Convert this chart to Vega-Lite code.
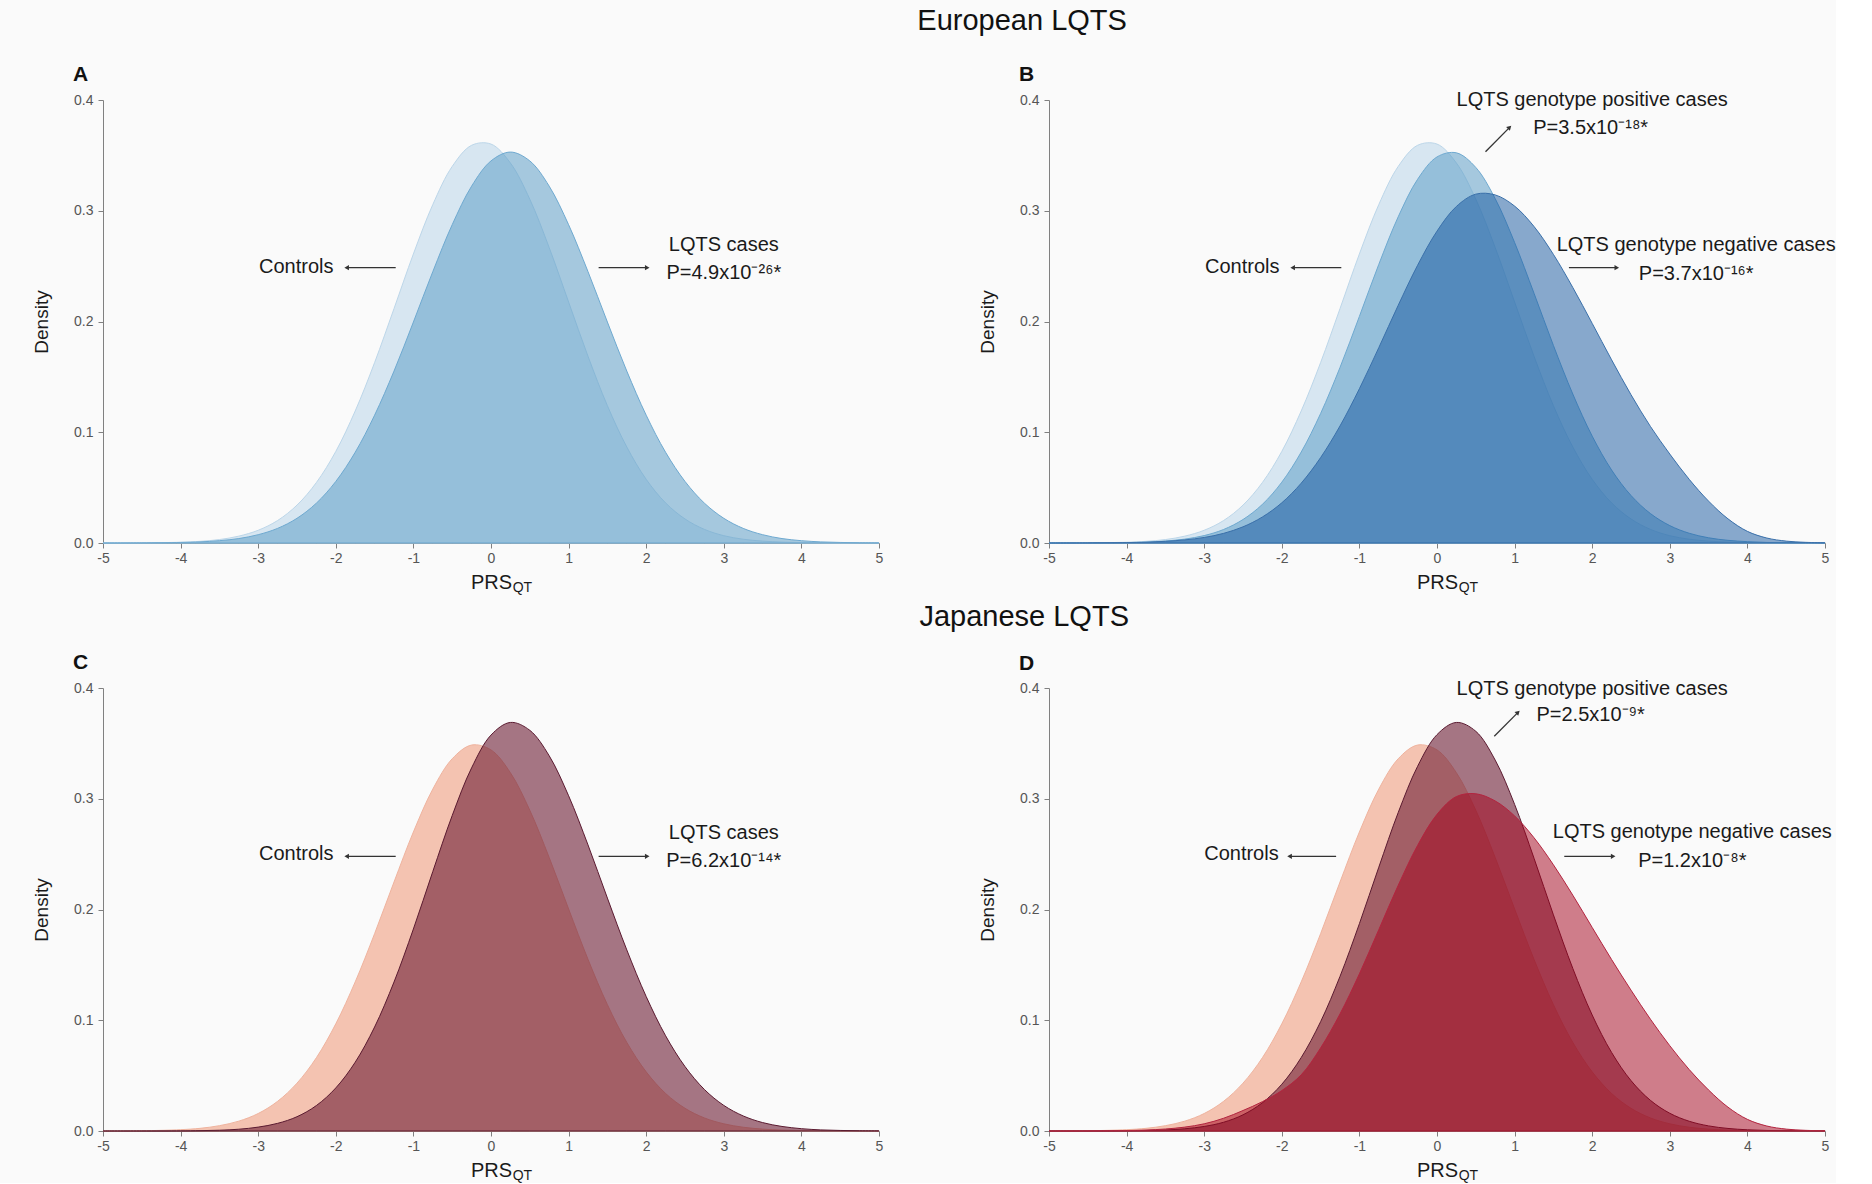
{
  "$schema": "https://vega.github.io/schema/vega-lite/v6.json",
  "background": "#fafafa",
  "padding": {"left": 32, "top": 7, "right": 0, "bottom": 0},
  "config": {
    "font": "Liberation Sans",
    "view": {"stroke": null},
    "axis": {"domainColor": "#808080", "tickColor": "#808080", "labelColor": "#555555", "labelFont": "Liberation Sans", "labelFontSize": 14, "titleFont": "Liberation Sans", "titleFontWeight": "normal", "titleColor": "#1a1a1a", "grid": false, "labelFlush": false, "labelOverlap": false, "tickSize": 5},
    "title": {"font": "Liberation Sans", "color": "#111111"}
  },
  "datasets": {
    "curves": [
      {"x":-5,"ctrlE":0,"caseA":0,"posB":0,"negB":0,"ctrlJ":0,"caseC":0,"posD":0,"negD":0},
      {"x":-4.5,"ctrlE":0.0001,"caseA":0.0001,"posB":0.0001,"negB":0.0001,"ctrlJ":0.0002,"caseC":0,"posD":0,"negD":0.0001},
      {"x":-4,"ctrlE":0.0007,"caseA":0.0005,"posB":0.0004,"negB":0.0004,"ctrlJ":0.0012,"caseC":0.0001,"posD":0.0002,"negD":0.0004},
      {"x":-3.75,"ctrlE":0.0015,"caseA":0.001,"posB":0.0008,"negB":0.0007,"ctrlJ":0.0024,"caseC":0.0003,"posD":0.0004,"negD":0.0009},
      {"x":-3.5,"ctrlE":0.0031,"caseA":0.0021,"posB":0.0018,"negB":0.0015,"ctrlJ":0.0048,"caseC":0.0007,"posD":0.0009,"negD":0.0018},
      {"x":-3.25,"ctrlE":0.0062,"caseA":0.004,"posB":0.0035,"negB":0.0028,"ctrlJ":0.0089,"caseC":0.0016,"posD":0.002,"negD":0.0035},
      {"x":-3,"ctrlE":0.0115,"caseA":0.0075,"posB":0.0067,"negB":0.005,"ctrlJ":0.0158,"caseC":0.0035,"posD":0.0041,"negD":0.0065},
      {"x":-2.75,"ctrlE":0.0203,"caseA":0.0132,"posB":0.0122,"negB":0.0087,"ctrlJ":0.0268,"caseC":0.0069,"posD":0.0079,"negD":0.0115},
      {"x":-2.5,"ctrlE":0.0342,"caseA":0.0223,"posB":0.0212,"negB":0.0146,"ctrlJ":0.0432,"caseC":0.0129,"posD":0.0146,"negD":0.0185},
      {"x":-2.25,"ctrlE":0.0546,"caseA":0.036,"posB":0.0349,"negB":0.0235,"ctrlJ":0.0662,"caseC":0.023,"posD":0.0255,"negD":0.0265},
      {"x":-2,"ctrlE":0.0827,"caseA":0.0556,"posB":0.0549,"negB":0.0363,"ctrlJ":0.0968,"caseC":0.0389,"posD":0.0422,"negD":0.0365},
      {"x":-1.75,"ctrlE":0.1192,"caseA":0.0819,"posB":0.0821,"negB":0.054,"ctrlJ":0.1346,"caseC":0.0621,"posD":0.0663,"negD":0.0507},
      {"x":-1.5,"ctrlE":0.1629,"caseA":0.1154,"posB":0.1169,"negB":0.0771,"ctrlJ":0.1782,"caseC":0.0939,"posD":0.0987,"negD":0.075},
      {"x":-1.25,"ctrlE":0.2116,"caseA":0.1552,"posB":0.1585,"negB":0.1057,"ctrlJ":0.2248,"caseC":0.1345,"posD":0.1396,"negD":0.1057},
      {"x":-1,"ctrlE":0.261,"caseA":0.1995,"posB":0.2046,"negB":0.1393,"ctrlJ":0.27,"caseC":0.1824,"posD":0.1872,"negD":0.1419},
      {"x":-0.75,"ctrlE":0.3056,"caseA":0.245,"posB":0.2516,"negB":0.1764,"ctrlJ":0.3087,"caseC":0.2343,"posD":0.2382,"negD":0.1818},
      {"x":-0.5,"ctrlE":0.34,"caseA":0.2874,"posB":0.2945,"negB":0.2146,"ctrlJ":0.3361,"caseC":0.2848,"posD":0.2875,"negD":0.2218},
      {"x":-0.25,"ctrlE":0.3591,"caseA":0.3222,"posB":0.3284,"negB":0.2508,"ctrlJ":0.3485,"caseC":0.3279,"posD":0.3293,"negD":0.2579},
      {"x":0,"ctrlE":0.3602,"caseA":0.345,"posB":0.3486,"negB":0.2816,"ctrlJ":0.3441,"caseC":0.3575,"posD":0.3579,"negD":0.2859},
      {"x":0.25,"ctrlE":0.3431,"caseA":0.353,"posB":0.3523,"negB":0.3039,"ctrlJ":0.3235,"caseC":0.3689,"posD":0.3689,"negD":0.302},
      {"x":0.5,"ctrlE":0.3104,"caseA":0.345,"posB":0.3391,"negB":0.315,"ctrlJ":0.2896,"caseC":0.3618,"posD":0.3609,"negD":0.3045},
      {"x":0.75,"ctrlE":0.2667,"caseA":0.3222,"posB":0.3109,"negB":0.3143,"ctrlJ":0.2469,"caseC":0.3388,"posD":0.3349,"negD":0.298},
      {"x":1,"ctrlE":0.2176,"caseA":0.2874,"posB":0.2713,"negB":0.3042,"ctrlJ":0.2005,"caseC":0.3027,"posD":0.2949,"negD":0.2845},
      {"x":1.25,"ctrlE":0.1686,"caseA":0.245,"posB":0.2255,"negB":0.2858,"ctrlJ":0.155,"caseC":0.2583,"posD":0.2463,"negD":0.2648},
      {"x":1.5,"ctrlE":0.124,"caseA":0.1995,"posB":0.1784,"negB":0.2606,"ctrlJ":0.1141,"caseC":0.2103,"posD":0.1952,"negD":0.2404},
      {"x":1.75,"ctrlE":0.0867,"caseA":0.1552,"posB":0.1345,"negB":0.2307,"ctrlJ":0.08,"caseC":0.1635,"posD":0.1468,"negD":0.2129},
      {"x":2,"ctrlE":0.0575,"caseA":0.1154,"posB":0.0965,"negB":0.1983,"ctrlJ":0.0534,"caseC":0.1214,"posD":0.1047,"negD":0.1838},
      {"x":2.25,"ctrlE":0.0362,"caseA":0.0819,"posB":0.0659,"negB":0.1654,"ctrlJ":0.0339,"caseC":0.086,"posD":0.0709,"negD":0.1548},
      {"x":2.5,"ctrlE":0.0217,"caseA":0.0556,"posB":0.0429,"negB":0.1339,"ctrlJ":0.0205,"caseC":0.0582,"posD":0.0455,"negD":0.1272},
      {"x":2.75,"ctrlE":0.0123,"caseA":0.036,"posB":0.0266,"negB":0.1053,"ctrlJ":0.0118,"caseC":0.0375,"posD":0.0277,"negD":0.101},
      {"x":3,"ctrlE":0.0066,"caseA":0.0223,"posB":0.0157,"negB":0.0803,"ctrlJ":0.0065,"caseC":0.0231,"posD":0.016,"negD":0.077},
      {"x":3.25,"ctrlE":0.0034,"caseA":0.0132,"posB":0.0088,"negB":0.0575,"ctrlJ":0.0034,"caseC":0.0136,"posD":0.0088,"negD":0.0555},
      {"x":3.5,"ctrlE":0.0017,"caseA":0.0075,"posB":0.0047,"negB":0.0378,"ctrlJ":0.0017,"caseC":0.0076,"posD":0.0046,"negD":0.037},
      {"x":3.75,"ctrlE":0.0008,"caseA":0.004,"posB":0.0024,"negB":0.0218,"ctrlJ":0.0008,"caseC":0.0041,"posD":0.0023,"negD":0.0215},
      {"x":4,"ctrlE":0.0003,"caseA":0.0021,"posB":0.0012,"negB":0.0105,"ctrlJ":0.0004,"caseC":0.0021,"posD":0.0011,"negD":0.0105},
      {"x":4.25,"ctrlE":0.0001,"caseA":0.001,"posB":0.0005,"negB":0.0045,"ctrlJ":0.0002,"caseC":0.001,"posD":0.0005,"negD":0.0045},
      {"x":4.5,"ctrlE":0,"caseA":0.0005,"posB":0.0002,"negB":0.0017,"ctrlJ":0.0001,"caseC":0.0005,"posD":0.0002,"negD":0.0017},
      {"x":4.75,"ctrlE":0,"caseA":0.0002,"posB":0.0001,"negB":0.0006,"ctrlJ":0,"caseC":0.0002,"posD":0.0001,"negD":0.0006},
      {"x":5,"ctrlE":0,"caseA":0.0001,"posB":0,"negB":0.0002,"ctrlJ":0,"caseC":0.0001,"posD":0,"negD":0.0002}
    ],
    "labels": [
      {"panel":"A","x":-2.51,"y":0.2495,"label":"Controls"},
      {"panel":"A","x":3.0,"y":0.269,"label":"LQTS cases"},
      {"panel":"A","x":3.0,"y":0.244,"label":"P=4.9x10⁻²⁶*"},
      {"panel":"B","x":-2.51,"y":0.2495,"label":"Controls"},
      {"panel":"B","x":2.0,"y":0.3997,"label":"LQTS genotype positive cases"},
      {"panel":"B","x":1.98,"y":0.3744,"label":"P=3.5x10⁻¹⁸*"},
      {"panel":"B","x":3.34,"y":0.269,"label":"LQTS genotype negative cases"},
      {"panel":"B","x":3.34,"y":0.243,"label":"P=3.7x10⁻¹⁶*"},
      {"panel":"C","x":-2.51,"y":0.2497,"label":"Controls"},
      {"panel":"C","x":3.0,"y":0.269,"label":"LQTS cases"},
      {"panel":"C","x":3.0,"y":0.2437,"label":"P=6.2x10⁻¹⁴*"},
      {"panel":"D","x":-2.52,"y":0.2497,"label":"Controls"},
      {"panel":"D","x":2.0,"y":0.3994,"label":"LQTS genotype positive cases"},
      {"panel":"D","x":1.98,"y":0.3752,"label":"P=2.5x10⁻⁹*"},
      {"panel":"D","x":3.29,"y":0.27,"label":"LQTS genotype negative cases"},
      {"panel":"D","x":3.29,"y":0.2437,"label":"P=1.2x10⁻⁸*"}
    ],
    "subs": [
      {"panel":"A","x":0.28,"y":-0.0405,"label":"QT"},
      {"panel":"B","x":0.28,"y":-0.0405,"label":"QT"},
      {"panel":"C","x":0.28,"y":-0.0405,"label":"QT"},
      {"panel":"D","x":0.28,"y":-0.0405,"label":"QT"}
    ],
    "arrows": [
      {"panel":"A","x":-1.228,"y":0.2486,"x2":-1.86,"y2":0.2486,"dir":270},
      {"panel":"A","x":1.387,"y":0.2486,"x2":2.013,"y2":0.2486,"dir":90},
      {"panel":"B","x":-1.233,"y":0.2486,"x2":-1.86,"y2":0.2486,"dir":270},
      {"panel":"B","x":1.7,"y":0.2486,"x2":2.317,"y2":0.2486,"dir":90},
      {"panel":"B","x":0.625,"y":0.3533,"x2":0.936,"y2":0.3753,"dir":45},
      {"panel":"C","x":-1.228,"y":0.248,"x2":-1.86,"y2":0.248,"dir":270},
      {"panel":"C","x":1.387,"y":0.248,"x2":2.013,"y2":0.248,"dir":90},
      {"panel":"D","x":-1.3,"y":0.248,"x2":-1.9,"y2":0.248,"dir":270},
      {"panel":"D","x":1.64,"y":0.248,"x2":2.27,"y2":0.248,"dir":90},
      {"panel":"D","x":0.738,"y":0.3565,"x2":1.044,"y2":0.378,"dir":45}
    ]
  },
  "spacing": 8,
  "vconcat": [
    {
      "title": {"text": "European LQTS", "anchor": "middle", "fontSize": 29, "fontWeight": "normal", "dx": 88, "offset": 28},
      "spacing": 95,
      "hconcat": [
        {
          "width": 776, "height": 443,
          "title": {"text": "A", "anchor": "start", "frame": "group", "fontSize": 21, "fontWeight": "bold", "dx": -30, "offset": 8},
          "layer": [
            {"data": {"name": "curves"}, "mark": {"type": "area", "interpolate": "catmull-rom", "fill": "#d7e6f1", "fillOpacity": 1, "stroke": "#bcd6e9", "strokeWidth": 1},
             "encoding": {
               "x": {"field": "x", "type": "quantitative", "title": "PRS", "scale": {"domain": [-5, 5], "nice": false, "zero": false}, "axis": {"values": [-5,-4,-3,-2,-1,0,1,2,3,4,5], "labelExpr": "'' + datum.value", "titleFontSize": 20, "titlePadding": 7, "labelPadding": 3}},
               "y": {"field": "ctrlE", "type": "quantitative", "title": "Density", "scale": {"domain": [0, 0.4], "nice": false}, "axis": {"values": [0, 0.1, 0.2, 0.3, 0.4], "format": ".1f", "titleFontSize": 19, "titlePadding": 22, "labelPadding": 5}}}},
            {"data": {"name": "curves"}, "mark": {"type": "area", "interpolate": "catmull-rom", "fill": "#5e9fc7", "fillOpacity": 0.55, "stroke": "#6ea9d0", "strokeWidth": 1},
             "encoding": {
               "x": {"field": "x", "type": "quantitative", "title": "PRS"},
               "y": {"field": "caseA", "type": "quantitative", "title": "Density"}}},
            {"data": {"name": "arrows"}, "transform": [{"filter": "datum.panel == 'A'"}], "mark": {"type": "rule", "color": "#333333", "strokeWidth": 1.3},
             "encoding": {"x": {"field": "x", "type": "quantitative", "title": "PRS"}, "y": {"field": "y", "type": "quantitative", "title": "Density"}, "x2": {"field": "x2"}, "y2": {"field": "y2"}}},
            {"data": {"name": "arrows"}, "transform": [{"filter": "datum.panel == 'A'"}], "mark": {"type": "point", "shape": "triangle-up", "filled": true, "color": "#333333", "size": 28, "opacity": 1},
             "encoding": {"x": {"field": "x2", "type": "quantitative", "title": "PRS"}, "y": {"field": "y2", "type": "quantitative", "title": "Density"}, "angle": {"field": "dir", "type": "quantitative", "scale": null}}},
            {"data": {"name": "labels"}, "transform": [{"filter": "datum.panel == 'A'"}], "mark": {"type": "text", "fontSize": 20, "color": "#1a1a1a", "align": "center", "baseline": "middle"},
             "encoding": {"x": {"field": "x", "type": "quantitative", "title": "PRS"}, "y": {"field": "y", "type": "quantitative", "title": "Density"}, "text": {"field": "label"}}},
            {"data": {"name": "subs"}, "transform": [{"filter": "datum.panel == 'A'"}], "mark": {"type": "text", "fontSize": 14, "color": "#1a1a1a", "align": "left", "baseline": "middle"},
             "encoding": {"x": {"field": "x", "type": "quantitative", "title": "PRS"}, "y": {"field": "y", "type": "quantitative", "title": "Density"}, "text": {"field": "label"}}}
          ]
        },
        {
          "width": 776, "height": 443,
          "title": {"text": "B", "anchor": "start", "frame": "group", "fontSize": 21, "fontWeight": "bold", "dx": -30, "offset": 5},
          "layer": [
            {"data": {"name": "curves"}, "mark": {"type": "area", "interpolate": "catmull-rom", "fill": "#d7e6f1", "fillOpacity": 1, "stroke": "#bcd6e9", "strokeWidth": 1},
             "encoding": {
               "x": {"field": "x", "type": "quantitative", "title": "PRS", "scale": {"domain": [-5, 5], "nice": false, "zero": false}, "axis": {"values": [-5,-4,-3,-2,-1,0,1,2,3,4,5], "labelExpr": "'' + datum.value", "titleFontSize": 20, "titlePadding": 7, "labelPadding": 3}},
               "y": {"field": "ctrlE", "type": "quantitative", "title": "Density", "scale": {"domain": [0, 0.4], "nice": false}, "axis": {"values": [0, 0.1, 0.2, 0.3, 0.4], "format": ".1f", "titleFontSize": 19, "titlePadding": 22, "labelPadding": 5}}}},
            {"data": {"name": "curves"}, "mark": {"type": "area", "interpolate": "catmull-rom", "fill": "#5e9fc7", "fillOpacity": 0.55, "stroke": "#6ea9d0", "strokeWidth": 1},
             "encoding": {
               "x": {"field": "x", "type": "quantitative", "title": "PRS"},
               "y": {"field": "posB", "type": "quantitative", "title": "Density"}}},
            {"data": {"name": "curves"}, "mark": {"type": "area", "interpolate": "catmull-rom", "fill": "#14569e", "fillOpacity": 0.5, "stroke": "#3a70aa", "strokeWidth": 1},
             "encoding": {
               "x": {"field": "x", "type": "quantitative", "title": "PRS"},
               "y": {"field": "negB", "type": "quantitative", "title": "Density"}}},
            {"data": {"name": "arrows"}, "transform": [{"filter": "datum.panel == 'B'"}], "mark": {"type": "rule", "color": "#333333", "strokeWidth": 1.3},
             "encoding": {"x": {"field": "x", "type": "quantitative", "title": "PRS"}, "y": {"field": "y", "type": "quantitative", "title": "Density"}, "x2": {"field": "x2"}, "y2": {"field": "y2"}}},
            {"data": {"name": "arrows"}, "transform": [{"filter": "datum.panel == 'B'"}], "mark": {"type": "point", "shape": "triangle-up", "filled": true, "color": "#333333", "size": 28, "opacity": 1},
             "encoding": {"x": {"field": "x2", "type": "quantitative", "title": "PRS"}, "y": {"field": "y2", "type": "quantitative", "title": "Density"}, "angle": {"field": "dir", "type": "quantitative", "scale": null}}},
            {"data": {"name": "labels"}, "transform": [{"filter": "datum.panel == 'B'"}], "mark": {"type": "text", "fontSize": 20, "color": "#1a1a1a", "align": "center", "baseline": "middle"},
             "encoding": {"x": {"field": "x", "type": "quantitative", "title": "PRS"}, "y": {"field": "y", "type": "quantitative", "title": "Density"}, "text": {"field": "label"}}},
            {"data": {"name": "subs"}, "transform": [{"filter": "datum.panel == 'B'"}], "mark": {"type": "text", "fontSize": 14, "color": "#1a1a1a", "align": "left", "baseline": "middle"},
             "encoding": {"x": {"field": "x", "type": "quantitative", "title": "PRS"}, "y": {"field": "y", "type": "quantitative", "title": "Density"}, "text": {"field": "label"}}}
          ]
        }
      ]
    },
    {
      "title": {"text": "Japanese LQTS", "anchor": "middle", "fontSize": 29, "fontWeight": "normal", "dx": 92, "offset": 20},
      "spacing": 95,
      "hconcat": [
        {
          "width": 776, "height": 443,
          "title": {"text": "C", "anchor": "start", "frame": "group", "fontSize": 21, "fontWeight": "bold", "dx": -30, "offset": 8},
          "layer": [
            {"data": {"name": "curves"}, "mark": {"type": "area", "interpolate": "catmull-rom", "fill": "#f4c3b1", "fillOpacity": 1, "stroke": "#efb39e", "strokeWidth": 1},
             "encoding": {
               "x": {"field": "x", "type": "quantitative", "title": "PRS", "scale": {"domain": [-5, 5], "nice": false, "zero": false}, "axis": {"values": [-5,-4,-3,-2,-1,0,1,2,3,4,5], "labelExpr": "'' + datum.value", "titleFontSize": 20, "titlePadding": 7, "labelPadding": 3}},
               "y": {"field": "ctrlJ", "type": "quantitative", "title": "Density", "scale": {"domain": [0, 0.4], "nice": false}, "axis": {"values": [0, 0.1, 0.2, 0.3, 0.4], "format": ".1f", "titleFontSize": 19, "titlePadding": 22, "labelPadding": 5}}}},
            {"data": {"name": "curves"}, "mark": {"type": "area", "interpolate": "catmull-rom", "fill": "#6c1c34", "fillOpacity": 0.6, "stroke": "#5a1a30", "strokeWidth": 1},
             "encoding": {
               "x": {"field": "x", "type": "quantitative", "title": "PRS"},
               "y": {"field": "caseC", "type": "quantitative", "title": "Density"}}},
            {"data": {"name": "arrows"}, "transform": [{"filter": "datum.panel == 'C'"}], "mark": {"type": "rule", "color": "#333333", "strokeWidth": 1.3},
             "encoding": {"x": {"field": "x", "type": "quantitative", "title": "PRS"}, "y": {"field": "y", "type": "quantitative", "title": "Density"}, "x2": {"field": "x2"}, "y2": {"field": "y2"}}},
            {"data": {"name": "arrows"}, "transform": [{"filter": "datum.panel == 'C'"}], "mark": {"type": "point", "shape": "triangle-up", "filled": true, "color": "#333333", "size": 28, "opacity": 1},
             "encoding": {"x": {"field": "x2", "type": "quantitative", "title": "PRS"}, "y": {"field": "y2", "type": "quantitative", "title": "Density"}, "angle": {"field": "dir", "type": "quantitative", "scale": null}}},
            {"data": {"name": "labels"}, "transform": [{"filter": "datum.panel == 'C'"}], "mark": {"type": "text", "fontSize": 20, "color": "#1a1a1a", "align": "center", "baseline": "middle"},
             "encoding": {"x": {"field": "x", "type": "quantitative", "title": "PRS"}, "y": {"field": "y", "type": "quantitative", "title": "Density"}, "text": {"field": "label"}}},
            {"data": {"name": "subs"}, "transform": [{"filter": "datum.panel == 'C'"}], "mark": {"type": "text", "fontSize": 14, "color": "#1a1a1a", "align": "left", "baseline": "middle"},
             "encoding": {"x": {"field": "x", "type": "quantitative", "title": "PRS"}, "y": {"field": "y", "type": "quantitative", "title": "Density"}, "text": {"field": "label"}}}
          ]
        },
        {
          "width": 776, "height": 443,
          "title": {"text": "D", "anchor": "start", "frame": "group", "fontSize": 21, "fontWeight": "bold", "dx": -30, "offset": 5},
          "layer": [
            {"data": {"name": "curves"}, "mark": {"type": "area", "interpolate": "catmull-rom", "fill": "#f4c3b1", "fillOpacity": 1, "stroke": "#efb39e", "strokeWidth": 1},
             "encoding": {
               "x": {"field": "x", "type": "quantitative", "title": "PRS", "scale": {"domain": [-5, 5], "nice": false, "zero": false}, "axis": {"values": [-5,-4,-3,-2,-1,0,1,2,3,4,5], "labelExpr": "'' + datum.value", "titleFontSize": 20, "titlePadding": 7, "labelPadding": 3}},
               "y": {"field": "ctrlJ", "type": "quantitative", "title": "Density", "scale": {"domain": [0, 0.4], "nice": false}, "axis": {"values": [0, 0.1, 0.2, 0.3, 0.4], "format": ".1f", "titleFontSize": 19, "titlePadding": 22, "labelPadding": 5}}}},
            {"data": {"name": "curves"}, "mark": {"type": "area", "interpolate": "catmull-rom", "fill": "#6c1c34", "fillOpacity": 0.6, "stroke": "#5a1a30", "strokeWidth": 1},
             "encoding": {
               "x": {"field": "x", "type": "quantitative", "title": "PRS"},
               "y": {"field": "posD", "type": "quantitative", "title": "Density"}}},
            {"data": {"name": "curves"}, "mark": {"type": "area", "interpolate": "catmull-rom", "fill": "#a4001a", "fillOpacity": 0.5, "stroke": "#b3243f", "strokeWidth": 1},
             "encoding": {
               "x": {"field": "x", "type": "quantitative", "title": "PRS"},
               "y": {"field": "negD", "type": "quantitative", "title": "Density"}}},
            {"data": {"name": "arrows"}, "transform": [{"filter": "datum.panel == 'D'"}], "mark": {"type": "rule", "color": "#333333", "strokeWidth": 1.3},
             "encoding": {"x": {"field": "x", "type": "quantitative", "title": "PRS"}, "y": {"field": "y", "type": "quantitative", "title": "Density"}, "x2": {"field": "x2"}, "y2": {"field": "y2"}}},
            {"data": {"name": "arrows"}, "transform": [{"filter": "datum.panel == 'D'"}], "mark": {"type": "point", "shape": "triangle-up", "filled": true, "color": "#333333", "size": 28, "opacity": 1},
             "encoding": {"x": {"field": "x2", "type": "quantitative", "title": "PRS"}, "y": {"field": "y2", "type": "quantitative", "title": "Density"}, "angle": {"field": "dir", "type": "quantitative", "scale": null}}},
            {"data": {"name": "labels"}, "transform": [{"filter": "datum.panel == 'D'"}], "mark": {"type": "text", "fontSize": 20, "color": "#1a1a1a", "align": "center", "baseline": "middle"},
             "encoding": {"x": {"field": "x", "type": "quantitative", "title": "PRS"}, "y": {"field": "y", "type": "quantitative", "title": "Density"}, "text": {"field": "label"}}},
            {"data": {"name": "subs"}, "transform": [{"filter": "datum.panel == 'D'"}], "mark": {"type": "text", "fontSize": 14, "color": "#1a1a1a", "align": "left", "baseline": "middle"},
             "encoding": {"x": {"field": "x", "type": "quantitative", "title": "PRS"}, "y": {"field": "y", "type": "quantitative", "title": "Density"}, "text": {"field": "label"}}}
          ]
        }
      ]
    }
  ]
}
